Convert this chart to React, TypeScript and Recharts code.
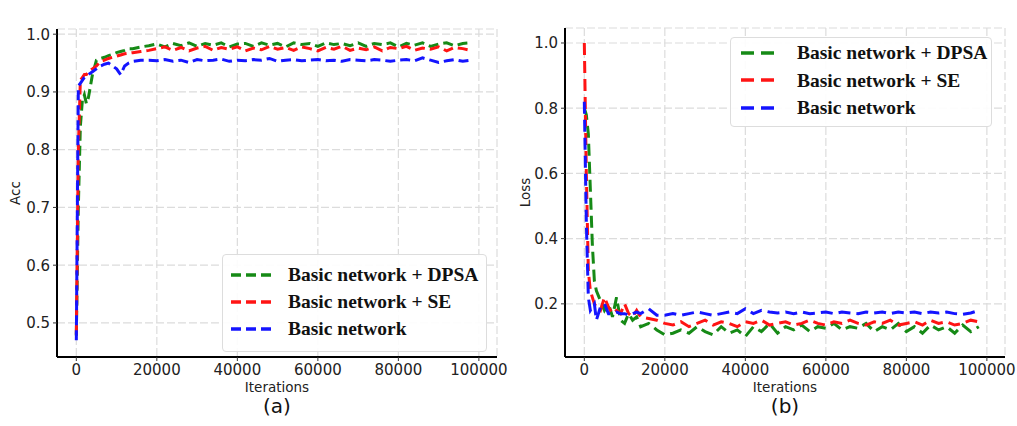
import React from 'react';
import { LineChart, Line, XAxis, YAxis, CartesianGrid, Legend } from 'recharts';

const iterations = [
  0, 500, 1000, 1500, 2000, 2500, 3000, 4000, 5000, 6000,
  7000, 8000, 9000, 10000, 11000, 12000, 13000, 14000, 16000, 18000,
  20000, 22000, 24000, 26000, 28000, 30000, 32000, 34000, 36000, 38000,
  40000, 42000, 44000, 46000, 48000, 50000, 52000, 54000, 56000, 58000,
  60000, 62000, 64000, 66000, 68000, 70000, 72000, 74000, 76000, 78000,
  80000, 82000, 84000, 86000, 88000, 90000, 92000, 94000, 96000, 98000,
];

const accDPSA = [
  0.478, 0.7, 0.84, 0.885, 0.895, 0.88, 0.89, 0.93, 0.955, 0.958,
  0.96, 0.963, 0.965, 0.968, 0.97, 0.972, 0.975, 0.975, 0.978, 0.98,
  0.983, 0.978, 0.984, 0.98, 0.985, 0.979, 0.984, 0.981, 0.985, 0.978,
  0.983, 0.984, 0.979, 0.985, 0.981, 0.984, 0.978, 0.985, 0.982, 0.984,
  0.979, 0.985, 0.982, 0.984, 0.98, 0.985, 0.979, 0.984, 0.982, 0.985,
  0.978, 0.984, 0.981, 0.985, 0.979, 0.983, 0.985, 0.98, 0.984, 0.985,
];
const accSE = [
  0.48, 0.8, 0.92, 0.925, 0.93, 0.93, 0.935, 0.94, 0.945, 0.953,
  0.955, 0.958, 0.96, 0.962, 0.964, 0.966, 0.967, 0.968, 0.97, 0.972,
  0.975, 0.978, 0.972, 0.977, 0.971, 0.976, 0.979, 0.972, 0.977, 0.974,
  0.978, 0.971, 0.976, 0.973, 0.979, 0.974, 0.977, 0.972, 0.978, 0.975,
  0.971, 0.977, 0.974, 0.979, 0.972, 0.976, 0.973, 0.978, 0.971, 0.977,
  0.975, 0.979, 0.972, 0.976, 0.974, 0.978, 0.971, 0.977, 0.975, 0.972,
];
const accBasic = [
  0.47, 0.91, 0.915, 0.92, 0.925, 0.928, 0.93, 0.935, 0.94, 0.945,
  0.948, 0.95, 0.945, 0.94, 0.93, 0.945, 0.95, 0.953, 0.955, 0.955,
  0.954, 0.956, 0.953, 0.955, 0.951, 0.956, 0.954, 0.955, 0.957, 0.953,
  0.955, 0.954, 0.956, 0.955, 0.958, 0.953, 0.955, 0.956, 0.954, 0.955,
  0.956, 0.954, 0.955, 0.953, 0.956, 0.955, 0.954, 0.956, 0.955, 0.953,
  0.955, 0.956, 0.954, 0.959, 0.955, 0.951, 0.954, 0.956, 0.953, 0.955,
];

const lossDPSA = [
  0.8, 0.78, 0.72, 0.55, 0.38, 0.27, 0.24, 0.21, 0.18, 0.2,
  0.16, 0.22, 0.15, 0.14, 0.17, 0.15, 0.16, 0.13, 0.14, 0.12,
  0.105, 0.11, 0.12, 0.11, 0.13, 0.115, 0.105, 0.13, 0.11, 0.12,
  0.1, 0.13, 0.115, 0.14, 0.11, 0.13, 0.12, 0.135, 0.115, 0.13,
  0.125, 0.14, 0.12, 0.13, 0.125, 0.14, 0.115, 0.13, 0.12, 0.14,
  0.115, 0.13, 0.11, 0.135, 0.12, 0.13, 0.11, 0.135, 0.115, 0.13,
];
const lossSE = [
  1.0, 0.6, 0.3, 0.24, 0.22, 0.2, 0.19, 0.18, 0.22, 0.19,
  0.17, 0.18, 0.17, 0.2, 0.17, 0.16, 0.18, 0.16, 0.155, 0.15,
  0.14, 0.135, 0.145, 0.13, 0.14, 0.15, 0.135, 0.145, 0.14, 0.13,
  0.145, 0.14, 0.15, 0.135, 0.14, 0.145, 0.135, 0.14, 0.15, 0.14,
  0.135, 0.145, 0.14, 0.15, 0.14, 0.135, 0.145, 0.14, 0.15, 0.135,
  0.14, 0.145, 0.135, 0.15, 0.14, 0.145, 0.135, 0.14, 0.15, 0.145,
];
const lossBasic = [
  0.82, 0.45, 0.22, 0.18, 0.19, 0.2, 0.15, 0.19, 0.2, 0.17,
  0.17, 0.175, 0.17, 0.17, 0.165, 0.17, 0.175, 0.17, 0.185, 0.165,
  0.165, 0.17, 0.165, 0.17, 0.175, 0.17, 0.165, 0.17, 0.175, 0.17,
  0.185, 0.17, 0.18, 0.175, 0.172, 0.175, 0.17, 0.175, 0.17, 0.172,
  0.175, 0.17, 0.175, 0.172, 0.17, 0.175, 0.172, 0.175, 0.17, 0.175,
  0.172, 0.175, 0.17, 0.175, 0.172, 0.175, 0.17, 0.168, 0.172, 0.18,
];

const xTicks = [0, 20000, 40000, 60000, 80000, 100000];
const accTicks = [0.5, 0.6, 0.7, 0.8, 0.9, 1.0];
const lossTicks = [0.2, 0.4, 0.6, 0.8, 1.0];

const seriesNames = ['Basic network + DPSA', 'Basic network + SE', 'Basic network'];
const seriesKeys = ['dpsa', 'se', 'basic'];
const seriesColors = ['#168a16', '#ff1414', '#1414ff'];

const accData = iterations.map((it, i) => ({ it, dpsa: accDPSA[i], se: accSE[i], basic: accBasic[i] }));
const lossData = iterations.map((it, i) => ({ it, dpsa: lossDPSA[i], se: lossSE[i], basic: lossBasic[i] }));

const tickFont = { fontFamily: 'DejaVu Sans', fontSize: 15, fill: '#222' };

function makeLegend(sampleW: number, dash: string, padLeft: number, gap: number, padTop: number, rowH: number) {
  return (props: any) => {
    const payload = (props.payload || []).slice().sort(
      (a: any, b: any) => seriesKeys.indexOf(a.dataKey) - seriesKeys.indexOf(b.dataKey)
    );
    return (
      <div
        style={{
          width: '100%',
          height: '100%',
          boxSizing: 'border-box',
          border: '1px solid #dddddd',
          borderRadius: 4,
          background: 'rgba(255,255,255,0.9)',
          paddingLeft: padLeft,
          paddingTop: padTop,
        }}
      >
        {payload.map((p: any) => (
          <div key={p.dataKey} style={{ display: 'flex', alignItems: 'center', height: rowH }}>
            <svg width={sampleW} height={6} style={{ display: 'block' }}>
              <line x1={0} y1={3} x2={sampleW} y2={3} stroke={p.color} strokeWidth={3.5} strokeDasharray={dash} />
            </svg>
            <span
              style={{
                marginLeft: gap,
                fontFamily: '"Liberation Serif", "Times New Roman", serif',
                fontWeight: 'bold',
                fontSize: 19.5,
                color: '#111',
                lineHeight: 1,
                whiteSpace: 'nowrap',
              }}
            >
              {p.value}
            </span>
          </div>
        ))}
      </div>
    );
  };
}

function TitleLabel(props: any) {
  const vb = props.viewBox || {};
  return (
    <text x={vb.x + vb.width / 2} y={vb.y - 8} textAnchor="middle" fontFamily="DejaVu Sans" fontSize={13} fill="#222">
      9-day egg embryos
    </text>
  );
}

function makeBottomLabel(tag: string) {
  return (props: any) => {
    const vb = props.viewBox || {};
    const cx = vb.x + vb.width / 2;
    return (
      <g>
        <text x={cx} y={vb.y + 35} textAnchor="middle" fontFamily="DejaVu Sans" fontSize={13.5} fill="#222">
          Iterations
        </text>
        <text x={cx} y={vb.y + 56} textAnchor="middle" fontFamily="DejaVu Sans" fontSize={20} fill="#111">
          {tag}
        </text>
      </g>
    );
  };
}

function makeYLabel(text: string, xPos: number) {
  return (props: any) => {
    const vb = props.viewBox || {};
    const cy = vb.y + vb.height / 2;
    return (
      <text
        x={xPos}
        y={cy}
        transform={`rotate(-90, ${xPos}, ${cy})`}
        textAnchor="middle"
        dominantBaseline="central"
        fontFamily="DejaVu Sans"
        fontSize={13.5}
        fill="#222"
      >
        {text}
      </text>
    );
  };
}

function Panel(props: {
  data: any[];
  width: number;
  yDomain: [number, number];
  yTicks: number[];
  yLabel: string;
  tag: string;
  yAxisWidth: number;
  marginRight: number;
  marginTop: number;
  dash: string;
  legend: any;
  legendStyle: any;
}) {
  const { data, width, yDomain, yTicks, yLabel, tag, yAxisWidth, marginRight, marginTop, dash, legend, legendStyle } = props;
  const xDomain: [number, number] = [-4800, 104500];
  return (
    <LineChart width={width} height={426} data={data} margin={{ top: marginTop, right: marginRight, bottom: 39, left: 0 }}>
      <CartesianGrid stroke="#dcdcdc" strokeWidth={1.2} strokeDasharray="8 3" />
      <XAxis
        dataKey="it"
        type="number"
        domain={xDomain}
        ticks={xTicks}
        allowDataOverflow
        height={30}
        tick={tickFont}
        tickSize={4}
        tickMargin={3}
        tickLine={{ stroke: '#333' }}
        axisLine={{ stroke: '#000', strokeWidth: 2 }}
        label={{ content: makeBottomLabel(tag) } as any}
      />
      <XAxis
        xAxisId="top"
        dataKey="it"
        type="number"
        orientation="top"
        domain={xDomain}
        allowDataOverflow
        height={0}
        tick={false}
        tickLine={false}
        axisLine={{ stroke: '#000', strokeWidth: 2 }}
        label={{ content: TitleLabel } as any}
      />
      <YAxis
        type="number"
        domain={yDomain}
        ticks={yTicks}
        allowDataOverflow
        width={yAxisWidth}
        tick={tickFont}
        tickSize={4}
        tickMargin={3}
        tickFormatter={(v: number) => v.toFixed(1)}
        tickLine={{ stroke: '#333' }}
        axisLine={{ stroke: '#000', strokeWidth: 2 }}
        label={{ content: makeYLabel(yLabel, 15) } as any}
      />
      <YAxis
        yAxisId="right"
        orientation="right"
        type="number"
        domain={yDomain}
        allowDataOverflow
        width={0}
        tick={false}
        tickLine={false}
        axisLine={{ stroke: '#000', strokeWidth: 2 }}
      />
      <Legend
        layout="vertical"
        align="center"
        verticalAlign="middle"
        content={legend}
        wrapperStyle={legendStyle}
      />
      {seriesKeys.map((k, i) => (
        <Line
          key={k}
          type="linear"
          dataKey={k}
          name={seriesNames[i]}
          stroke={seriesColors[i]}
          strokeWidth={3}
          strokeDasharray={dash}
          dot={false}
          isAnimationActive={false}
        />
      ))}
    </LineChart>
  );
}

export default function App() {
  return (
    <div style={{ position: 'absolute', left: 0, top: 0, width: 1017, height: 426, background: '#fff', overflow: 'hidden' }}>
      <div style={{ position: 'absolute', left: 0, top: 0 }}>
        <Panel
          data={accData}
          width={510}
          yDomain={[0.441, 1.009]}
          yTicks={accTicks}
          yLabel="Acc"
          tag="(a)"
          yAxisWidth={57}
          marginRight={13}
          marginTop={29}
          dash="10 5"
          legend={makeLegend(40, '10 5', 8, 17, 6, 27)}
          legendStyle={{ position: 'absolute', left: 222, top: 254, width: 265, height: 98 }}
        />
      </div>
      <div style={{ position: 'absolute', left: 510, top: 0 }}>
        <Panel
          data={lossData}
          width={507}
          yDomain={[0.037, 1.046]}
          yTicks={lossTicks}
          yLabel="Loss"
          tag="(b)"
          yAxisWidth={55}
          marginRight={12}
          marginTop={28}
          dash="12 6"
          legend={makeLegend(33, '13 7', 10, 23, 1, 27.5)}
          legendStyle={{ position: 'absolute', left: 220, top: 37, width: 262, height: 90 }}
        />
      </div>
    </div>
  );
}
